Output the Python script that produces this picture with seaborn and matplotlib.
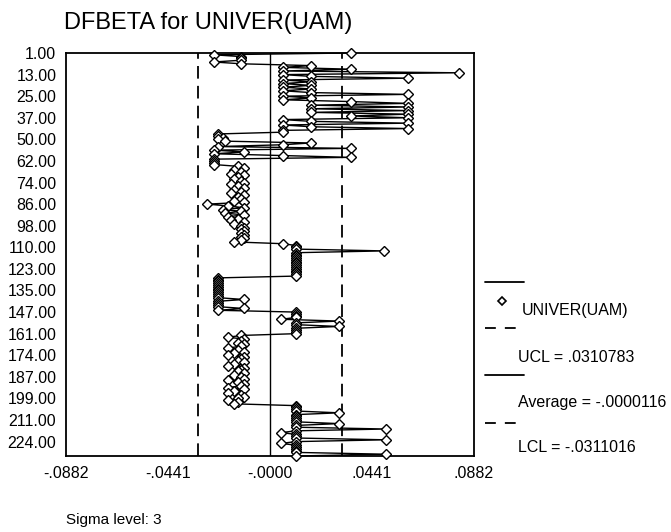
import numpy as np
import pandas as pd
import matplotlib
matplotlib.use('Agg')
import matplotlib.pyplot as plt
from matplotlib.lines import Line2D
import seaborn as sns

# ---- data (DFBETA per case, in case order) ----
dfbeta = [
    0.0350, -0.0242, -0.0125, -0.0125, -0.0125, -0.0242, -0.0125,
    0.0177, 0.0056, 0.0350, 0.0056, 0.0817, 0.0056, 0.0177, 0.0597, 0.0056,
    0.0177, 0.0056, 0.0177, 0.0056, 0.0177, 0.0056, 0.0177, 0.0597, 0.0056,
    0.0177, 0.0056, 0.0350, 0.0597, 0.0177, 0.0597, 0.0177, 0.0597, 0.0177,
    0.0597, 0.0350, 0.0597, 0.0056, 0.0177, 0.0597, 0.0056, 0.0177, 0.0597,
    0.0056, 0.0056,
    -0.0225, -0.0225, -0.0203, -0.0225, -0.0195, 0.0177, 0.0056, -0.0225,
    0.0350, -0.0242, -0.0112, -0.0242, 0.0056, 0.0350, -0.0242, -0.0242,
    -0.0242, -0.0242,
    -0.0138, -0.0112, -0.0156, -0.0125, -0.0169, -0.0112, -0.0138, -0.0156,
    -0.0125, -0.0112, -0.0169, -0.0138, -0.0112, -0.0156, -0.0125, -0.0169,
    -0.0112, -0.0138, -0.0125, -0.0156, -0.0112, -0.0272, -0.0182, -0.0112,
    -0.0203, -0.0125, -0.0195, -0.0112, -0.0182, -0.0138, -0.0169, -0.0112,
    -0.0156, -0.0125, -0.0112, -0.0125, -0.0112, -0.0125, -0.0112, -0.0125,
    -0.0112, -0.0125, -0.0156,
    0.0056, 0.0112, 0.0112, 0.0112, 0.0493, 0.0112, 0.0112, 0.0112, 0.0112,
    0.0112, 0.0112, 0.0112, 0.0112, 0.0112, 0.0112, 0.0112, 0.0112, 0.0112,
    0.0112,
    -0.0225, -0.0225, -0.0225, -0.0225, -0.0225, -0.0225, -0.0225, -0.0225,
    -0.0225, -0.0225, -0.0225, -0.0225, -0.0112, -0.0225, -0.0225, -0.0225,
    -0.0225, -0.0112, -0.0225,
    0.0112, 0.0112, 0.0112, 0.0112, 0.0048, 0.0298, 0.0112, 0.0112, 0.0298,
    0.0112, 0.0112, 0.0112, 0.0112, -0.0125,
    -0.0182, -0.0112, -0.0125, -0.0138, -0.0112, -0.0125, -0.0182, -0.0138,
    -0.0112, -0.0156, -0.0182, -0.0112, -0.0125, -0.0138, -0.0112, -0.0156,
    -0.0182, -0.0112, -0.0125, -0.0138, -0.0112, -0.0156, -0.0125, -0.0112,
    -0.0182, -0.0138, -0.0112, -0.0125, -0.0182, -0.0112, -0.0156, -0.0182,
    -0.0125, -0.0112, -0.0138, -0.0182, -0.0138, -0.0156,
    0.0112, 0.0112, 0.0112, 0.0112, 0.0298, 0.0112, 0.0112, 0.0112, 0.0112,
    0.0112, 0.0298, 0.0112, 0.0112, 0.0502, 0.0112, 0.0048, 0.0112, 0.0112,
    0.0112, 0.0502, 0.0112, 0.0048, 0.0112, 0.0112, 0.0112, 0.0112, 0.0112,
    0.0502, 0.0112,
]
case_labels = ['1.00', '13.00', '25.00', '37.00', '50.00', '62.00', '74.00',
               '86.00', '98.00', '110.00', '123.00', '135.00', '147.00',
               '161.00', '174.00', '187.00', '199.00', '211.00', '224.00']
x_ticks = [-0.0882, -0.0441, 0.0, 0.0441, 0.0882]
x_tick_labels = ['-.0882', '-.0441', '-.0000', '.0441', '.0882']
ucl = 0.0310783
average = -0.0000116
lcl = -0.0311016

df = pd.DataFrame({'dfbeta': dfbeta, 'seq': np.arange(len(dfbeta))})

sns.set_style('white')
plt.rcParams['font.family'] = ['Liberation Sans', 'DejaVu Sans']
plt.rcParams['text.color'] = 'black'
plt.rcParams['xtick.color'] = 'black'
plt.rcParams['ytick.color'] = 'black'

W, H = 671, 532
fig = plt.figure(figsize=(W / 100, H / 100), dpi=100)
ax = fig.add_axes([66 / W, 1 - 456 / H, (474 - 66) / W, (456 - 53) / H])

def fx(px):
    return px / W

def fy(py):
    return 1 - py / H

sns.lineplot(data=df, x='dfbeta', y='seq', sort=False, estimator=None,
             orient='y', ax=ax, color='black', lw=1.0, marker='D',
             markersize=5, markerfacecolor='white', markeredgecolor='black',
             markeredgewidth=1.0, clip_on=False, zorder=3)

ax.axvline(ucl, color='black', lw=1.3, ls=(0, (7, 4)), zorder=2)
ax.axvline(lcl, color='black', lw=1.3, ls=(0, (7, 4)), zorder=2)
ax.axvline(average, color='black', lw=1.0, zorder=2)

ax.set_xlim(-0.0882, 0.0882)
ax.set_ylim(len(dfbeta) - 1, 0)
ax.set_xticks(x_ticks)
ax.set_xticklabels(x_tick_labels, fontsize=11.5)
ax.set_yticks(np.arange(len(case_labels)) * 12)
ax.set_yticklabels(case_labels, fontsize=11.5)
ax.tick_params(axis='both', direction='out', length=5, width=1,
               color='black', labelcolor='black', pad=2)
ax.set_xlabel('')
ax.set_ylabel('')
for s in ax.spines.values():
    s.set_color('black')
    s.set_linewidth(1.3)

fig.text(fx(64), fy(29), 'DFBETA for UNIVER(UAM)', fontsize=17,
         ha='left', va='baseline', color='black')
fig.text(fx(66), fy(520), 'Sigma level: 3', fontsize=11, ha='left',
         va='center', color='black')

# legend, SPSS style: symbol above, label below
def leg_line(py, ls):
    fig.add_artist(Line2D([fx(485), fx(524)], [fy(py), fy(py)], color='black',
                          lw=1.3, ls=ls))

leg_line(282, '-')
fig.add_artist(Line2D([fx(502)], [fy(301)], marker='D', markersize=4.5,
                      markerfacecolor='white', markeredgecolor='black',
                      markeredgewidth=1.2, ls='none'))
fig.text(fx(522), fy(310), 'UNIVER(UAM)', fontsize=11.5, va='center')
leg_line(328, (0, (6, 5)))
fig.text(fx(518), fy(357), 'UCL = .0310783', fontsize=11.5, va='center')
leg_line(375, '-')
fig.text(fx(518), fy(402), 'Average = -.0000116', fontsize=11.5, va='center')
leg_line(423, (0, (6, 5)))
fig.text(fx(518), fy(448), 'LCL = -.0311016', fontsize=11.5, va='center')

fig.savefig('out.png', dpi=100)
